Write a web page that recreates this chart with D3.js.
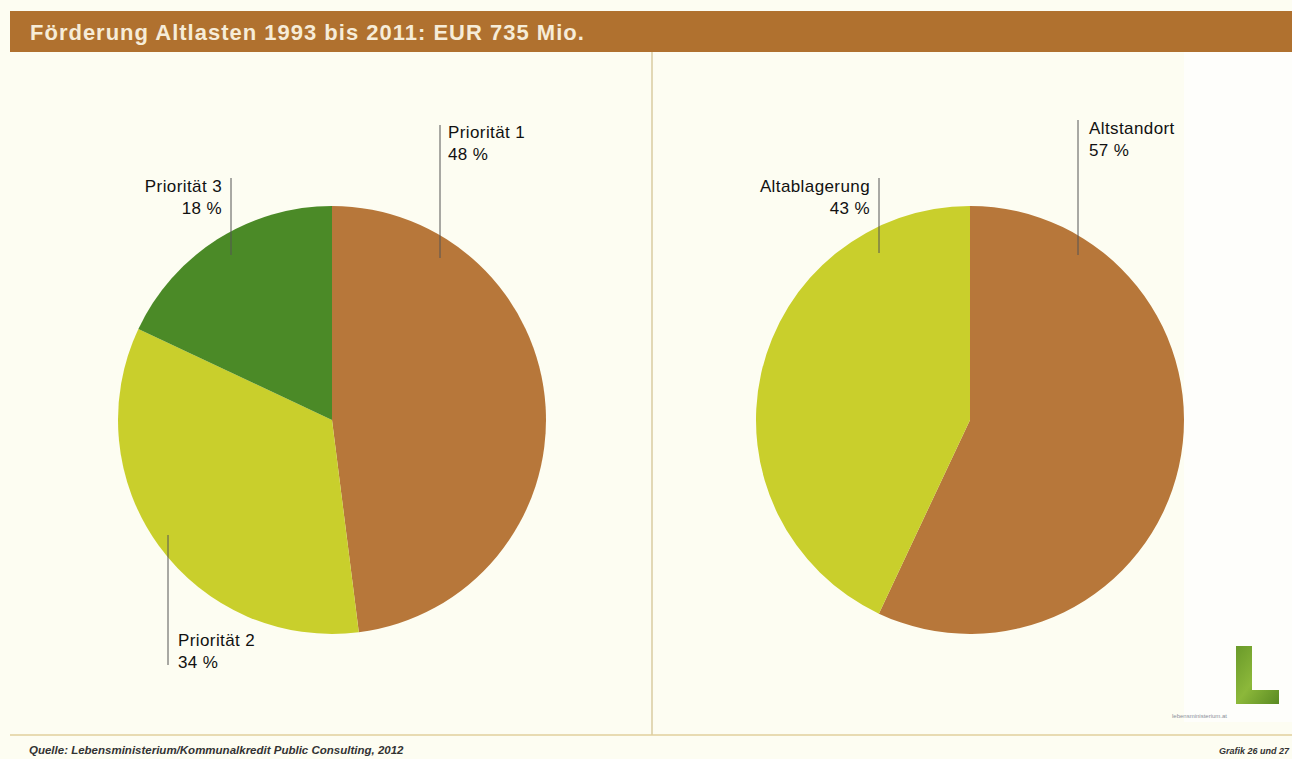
<!DOCTYPE html>
<html>
<head>
<meta charset="utf-8">
<script src="https://cdn.jsdelivr.net/npm/d3@7"></script>
<style>
  body { margin: 0; background: #fdfdf2; }
  svg { display: block; font-family: "Liberation Sans", Arial, sans-serif; }
</style>
</head>
<body>
<svg id="chart" width="1292" height="759"></svg>
<script>
// data
const prioCategories = ["Priorität 1", "Priorität 2", "Priorität 3"];
const prioValues = [48, 34, 18];
const prioColors = ["#b7773a", "#c9cf2c", "#4b8a27"];

const typCategories = ["Altstandort", "Altablagerung"];
const typValues = [57, 43];
const typColors = ["#b7773a", "#c9cf2c"];

const titleText = "Förderung Altlasten 1993 bis 2011: EUR 735 Mio.";
const sourceText = "Quelle: Lebensministerium/Kommunalkredit Public Consulting, 2012";
const grafikText = "Grafik 26 und 27";

const svg = d3.select("#chart");

// background
svg.append("rect").attr("width", 1292).attr("height", 759).attr("fill", "#fdfdf2");
svg.append("rect").attr("x", 1184).attr("y", 52).attr("width", 108).attr("height", 670).attr("fill", "#fefefb");

// title bar
svg.append("rect").attr("x", 10).attr("y", 11).attr("width", 1282).attr("height", 41).attr("fill", "#b0712f");
svg.append("text").attr("x", 30).attr("y", 40)
  .attr("fill", "#f6ecd8").attr("font-size", 22).attr("font-weight", "bold")
  .attr("letter-spacing", 1)
  .text(titleText);

// divider + bottom rule
svg.append("line").attr("x1", 652).attr("x2", 652).attr("y1", 52).attr("y2", 735)
  .attr("stroke", "#d9cba0").attr("stroke-width", 1.5);
svg.append("line").attr("x1", 10).attr("x2", 1292).attr("y1", 735).attr("y2", 735)
  .attr("stroke", "#e0cf9c").attr("stroke-width", 1.5);

const radius = 214;
const pie = d3.pie().sort(null).value(d => d);
const arc = d3.arc().innerRadius(0).outerRadius(radius);

function drawPie(cx, cy, values, colors) {
  const g = svg.append("g").attr("transform", `translate(${cx},${cy})`);
  g.selectAll("path")
    .data(pie(values))
    .join("path")
    .attr("d", arc)
    .attr("fill", (d, i) => colors[i]);
  return g;
}

drawPie(332, 420, prioValues, prioColors);
drawPie(970, 420, typValues, typColors);

// labels with vertical leader lines
function label(name, value, lineX, y1, y2, tx, ty, anchor) {
  svg.append("line").attr("x1", lineX).attr("x2", lineX).attr("y1", y1).attr("y2", y2)
    .attr("stroke", "#555").attr("stroke-width", 1);
  const t = svg.append("text").attr("font-size", 17).attr("letter-spacing", 0.4)
    .attr("fill", "#111").attr("text-anchor", anchor);
  t.append("tspan").attr("x", tx).attr("y", ty).text(name);
  t.append("tspan").attr("x", tx).attr("y", ty + 22).text(value + " %");
}

label(prioCategories[0], prioValues[0], 440, 125, 258, 448, 138, "start");
label(prioCategories[2], prioValues[2], 231, 178, 255, 222, 192, "end");
label(prioCategories[1], prioValues[1], 168, 535, 665, 178, 646, "start");
label(typCategories[1], typValues[1], 879, 178, 253, 870, 192, "end");
label(typCategories[0], typValues[0], 1078, 120, 255, 1089, 134, "start");

// logo
const lg = svg.append("defs").append("linearGradient").attr("id", "lg")
  .attr("x1", 0).attr("y1", 0).attr("x2", 1).attr("y2", 1);
lg.append("stop").attr("offset", 0).attr("stop-color", "#6a9a2a");
lg.append("stop").attr("offset", 0.5).attr("stop-color", "#8cb83a");
lg.append("stop").attr("offset", 1).attr("stop-color", "#5a8a22");
svg.append("path")
  .attr("d", "M1236,646 L1252,646 L1252,690 L1279,690 L1279,704 L1236,704 Z")
  .attr("fill", "url(#lg)");
svg.append("text").attr("x", 1172).attr("y", 718).attr("font-size", 6).attr("fill", "#8a8f9a")
  .text("lebensministerium.at");

// footer
svg.append("text").attr("x", 29).attr("y", 754).attr("font-size", 11.5).attr("font-style", "italic")
  .attr("font-weight", "bold").attr("fill", "#333").text(sourceText);
svg.append("text").attr("x", 1289).attr("y", 754).attr("text-anchor", "end").attr("font-size", 9)
  .attr("font-style", "italic").attr("font-weight", "bold").attr("fill", "#333").text(grafikText);
</script>
</body>
</html>
